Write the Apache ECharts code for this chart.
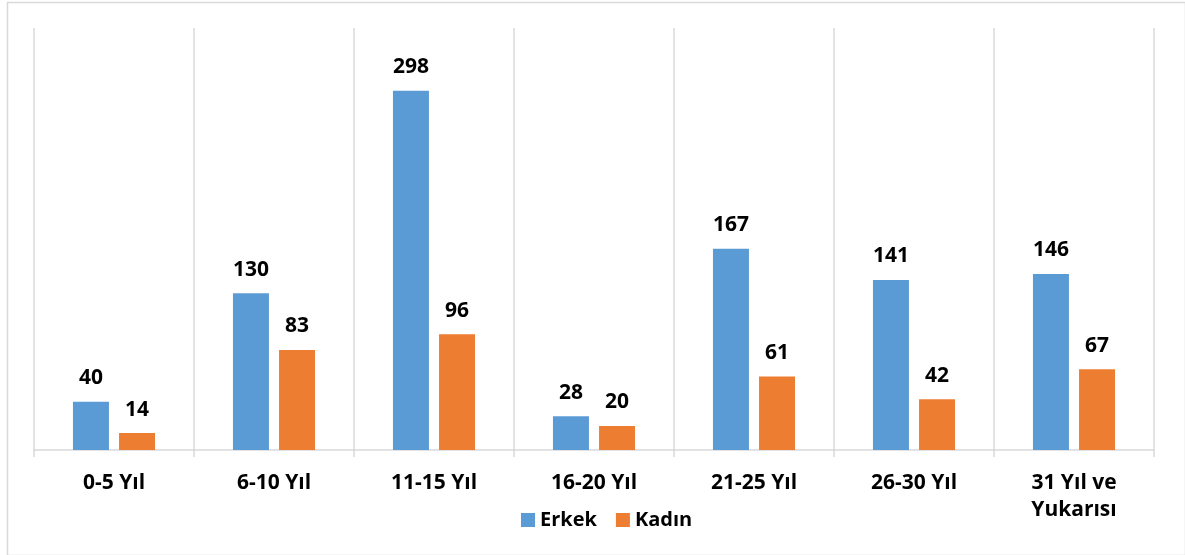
<!DOCTYPE html>
<html>
<head>
<meta charset="utf-8">
<script src="https://cdn.jsdelivr.net/npm/echarts@6/dist/echarts.min.js"></script>
<style>
html,body{margin:0;padding:0;background:#fff;}
#chart{width:1185px;height:555px;}
</style>
</head>
<body>
<div id="chart"></div>
<script>
const categories = ['0-5 Yıl', '6-10 Yıl', '11-15 Yıl', '16-20 Yıl', '21-25 Yıl', '26-30 Yıl', '31 Yıl ve\nYukarısı'];
const erkek = [40, 130, 298, 28, 167, 141, 146];
const kadin = [14, 83, 96, 20, 61, 42, 67];
const seriesNames = ['Erkek', 'Kadın'];

const FONT = '"Open Sans", "DejaVu Sans", sans-serif';
const chart = echarts.init(document.getElementById('chart'), null, {renderer: 'canvas'});
const labelStyle = {
  show: true, position: 'top', distance: 13,
  fontFamily: FONT, fontWeight: 'bold', fontSize: 21, color: '#000'
};
chart.setOption({
  animation: false,
  graphic: [{
    type: 'rect', left: 5, top: 0, z: -1,
    shape: {width: 1178, height: 553},
    style: {fill: 'none', stroke: '#d9d9d9', lineWidth: 1.5}
  }],
  grid: {left: 34, right: 31, top: 28, bottom: 105, containLabel: false},
  legend: {
    data: seriesNames, bottom: 20, left: 516,
    itemWidth: 14, itemHeight: 14, itemGap: 19,
    icon: 'rect',
    textStyle: {fontFamily: FONT, fontWeight: 'bold', fontSize: 20, color: '#000'}
  },
  xAxis: {
    type: 'category', data: categories,
    axisLine: {show: true, lineStyle: {color: '#d9d9d9', width: 1.5}},
    axisTick: {show: true, length: 7, interval: 0, lineStyle: {color: '#d9d9d9', width: 1.5}},
    splitLine: {show: true, interval: 0, lineStyle: {color: '#d9d9d9', width: 1.5}},
    axisLabel: {
      interval: 0, margin: 20, lineHeight: 27,
      fontFamily: FONT, fontWeight: 'bold', fontSize: 21, color: '#000'
    }
  },
  yAxis: {
    type: 'value', min: 0, max: 350, show: false,
    splitLine: {show: false}
  },
  series: [
    {name: seriesNames[0], type: 'bar', data: erkek, barWidth: 36, barGap: '28%',
     itemStyle: {color: '#5B9BD5'}, label: labelStyle},
    {name: seriesNames[1], type: 'bar', data: kadin, barWidth: 36,
     itemStyle: {color: '#ED7D31'}, label: labelStyle}
  ]
});
</script>
</body>
</html>
